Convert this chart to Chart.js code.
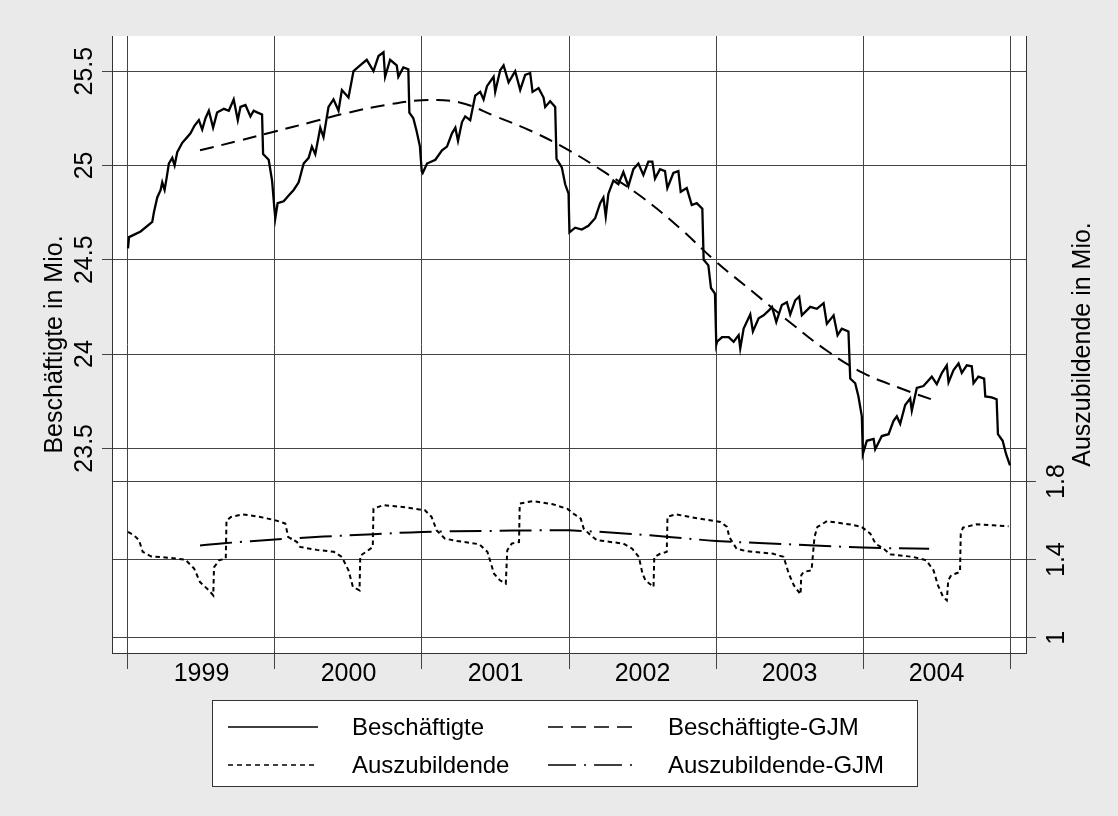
<!DOCTYPE html>
<html>
<head>
<meta charset="utf-8">
<script src="https://cdn.jsdelivr.net/npm/chart.js@4"></script>
<style>
  html, body { margin: 0; padding: 0; background: #eaeaea; }
  canvas { display: block; }
</style>
</head>
<body>
<canvas id="chart" width="1118" height="816"></canvas>
<script>
// Beschäftigte (Mio.), time in decimal years
const besT = [1999.000,1999.007,1999.086,1999.165,1999.176,1999.199,1999.222,1999.233,1999.249,1999.262,1999.278,1999.301,1999.317,1999.335,1999.369,1999.403,1999.425,1999.452,1999.482,1999.505,1999.527,1999.550,1999.579,1999.606,1999.652,1999.686,1999.719,1999.747,1999.765,1999.799,1999.833,1999.855,1999.882,1999.912,1999.919,1999.957,1999.980,1999.995,
  2000.002,2000.018,2000.059,2000.093,2000.127,2000.161,2000.195,2000.229,2000.251,2000.274,2000.308,2000.330,2000.364,2000.398,2000.432,2000.455,2000.500,2000.534,2000.579,2000.624,2000.670,2000.704,2000.738,2000.749,2000.783,2000.828,2000.839,2000.873,2000.907,2000.914,2000.941,2000.964,2000.986,2000.998,
  2001.005,2001.034,2001.091,2001.136,2001.170,2001.204,2001.227,2001.245,2001.272,2001.294,2001.328,2001.362,2001.396,2001.419,2001.442,2001.487,2001.498,2001.532,2001.555,2001.589,2001.634,2001.668,2001.702,2001.736,2001.752,2001.793,2001.827,2001.838,2001.872,2001.906,2001.915,2001.951,2001.974,2001.997,
  2002.003,2002.042,2002.087,2002.132,2002.178,2002.212,2002.234,2002.250,2002.268,2002.302,2002.336,2002.370,2002.404,2002.438,2002.472,2002.506,2002.540,2002.567,2002.585,2002.619,2002.653,2002.669,2002.710,2002.744,2002.760,2002.801,2002.835,2002.869,2002.907,2002.916,2002.948,2002.966,2002.993,
  2003.002,2003.007,2003.041,2003.086,2003.120,2003.154,2003.165,2003.188,2003.233,2003.251,2003.290,2003.324,2003.358,2003.381,2003.410,2003.448,2003.482,2003.505,2003.539,2003.566,2003.584,2003.641,2003.686,2003.732,2003.754,2003.800,2003.827,2003.856,2003.901,2003.913,2003.947,2003.969,2003.992,2003.999,
  2004.026,2004.072,2004.083,2004.128,2004.174,2004.207,2004.230,2004.253,2004.287,2004.321,2004.332,2004.366,2004.411,2004.445,2004.468,2004.502,2004.537,2004.570,2004.582,2004.616,2004.650,2004.672,2004.706,2004.740,2004.752,2004.785,2004.824,2004.832,2004.875,2004.909,2004.918,2004.950,2004.973,2005.000];
const besV = [24.56,24.62,24.65,24.70,24.75,24.83,24.87,24.91,24.87,24.93,25.01,25.04,25.00,25.07,25.12,25.15,25.17,25.21,25.24,25.19,25.25,25.29,25.20,25.28,25.30,25.29,25.35,25.24,25.31,25.32,25.26,25.29,25.28,25.27,25.06,25.03,24.92,24.78,
  24.72,24.80,24.81,24.84,24.87,24.91,25.01,25.04,25.10,25.06,25.20,25.15,25.31,25.35,25.29,25.40,25.36,25.50,25.53,25.56,25.50,25.58,25.60,25.47,25.56,25.53,25.47,25.52,25.51,25.28,25.25,25.18,25.10,24.97,
  24.96,25.01,25.03,25.08,25.10,25.17,25.20,25.13,25.23,25.26,25.24,25.37,25.39,25.35,25.42,25.47,25.39,25.505,25.53,25.44,25.50,25.40,25.48,25.49,25.39,25.41,25.36,25.31,25.34,25.31,25.035,24.99,24.90,24.85,
  24.645,24.67,24.66,24.68,24.72,24.80,24.83,24.73,24.85,24.92,24.90,24.965,24.89,24.98,25.01,24.95,25.02,25.02,24.93,24.98,24.97,24.88,24.96,24.97,24.86,24.88,24.79,24.80,24.77,24.50,24.47,24.35,24.32,
  24.05,24.065,24.09,24.09,24.065,24.10,24.03,24.135,24.21,24.12,24.19,24.205,24.23,24.25,24.17,24.26,24.275,24.21,24.285,24.305,24.205,24.25,24.24,24.27,24.16,24.205,24.10,24.135,24.12,23.87,23.845,23.775,23.67,23.47,
  23.54,23.55,23.495,23.565,23.575,23.645,23.67,23.63,23.73,23.765,23.70,23.82,23.83,23.86,23.88,23.84,23.90,23.94,23.85,23.915,23.95,23.90,23.94,23.935,23.845,23.88,23.87,23.775,23.77,23.76,23.575,23.54,23.47,23.41];

// Beschäftigte, gleitender Jahresmittelwert
const besGjmT = [1999.49,1999.75,2000.0,2000.25,2000.5,2000.75,2001.0,2001.25,2001.5,2001.75,2002.0,2002.25,2002.5,2002.75,2003.0,2003.25,2003.5,2003.75,2004.0,2004.25,2004.5];
const besGjmV = [25.08,25.13,25.18,25.23,25.28,25.32,25.345,25.335,25.26,25.18,25.08,24.96,24.83,24.67,24.49,24.33,24.17,24.02,23.90,23.82,23.75];

// Auszubildende (Mio.)
const azT = [1999.00,1999.04,1999.075,1999.10,1999.155,1999.27,1999.39,1999.45,1999.49,1999.55,1999.58,1999.585,1999.62,1999.665,1999.67,1999.70,1999.78,1999.90,
  2000.01,2000.07,2000.09,2000.15,2000.17,2000.285,2000.40,2000.455,2000.50,2000.53,2000.575,2000.58,2000.62,2000.665,2000.67,2000.735,2000.87,
  2001.02,2001.065,2001.10,2001.155,2001.235,2001.39,2001.445,2001.49,2001.53,2001.57,2001.58,2001.61,2001.66,2001.665,2001.755,2001.89,2001.99,
  2002.03,2002.08,2002.10,2002.147,2002.19,2002.37,2002.43,2002.475,2002.50,2002.52,2002.575,2002.58,2002.62,2002.665,2002.67,2002.725,2002.89,
  2003.03,2003.075,2003.09,2003.14,2003.21,2003.39,2003.46,2003.495,2003.53,2003.575,2003.58,2003.595,2003.65,2003.67,2003.69,2003.755,2003.915,2003.99,
  2004.05,2004.085,2004.14,2004.185,2004.34,2004.43,2004.48,2004.51,2004.545,2004.57,2004.58,2004.60,2004.66,2004.665,2004.68,2004.77,2004.885,2004.99];
const azV = [1.542,1.525,1.50,1.44,1.417,1.41,1.40,1.354,1.285,1.243,1.217,1.36,1.397,1.405,1.60,1.619,1.632,1.619,
  1.60,1.585,1.516,1.49,1.465,1.45,1.44,1.414,1.345,1.26,1.243,1.42,1.44,1.465,1.661,1.679,1.67,
  1.653,1.619,1.55,1.508,1.496,1.479,1.44,1.328,1.294,1.277,1.448,1.482,1.49,1.687,1.70,1.684,1.66,
  1.636,1.61,1.559,1.525,1.50,1.482,1.456,1.414,1.328,1.294,1.26,1.414,1.43,1.44,1.62,1.632,1.61,
  1.593,1.568,1.516,1.456,1.443,1.43,1.414,1.328,1.268,1.222,1.32,1.337,1.345,1.516,1.568,1.597,1.58,1.568,
  1.533,1.482,1.456,1.427,1.414,1.397,1.345,1.268,1.209,1.191,1.294,1.32,1.337,1.533,1.564,1.581,1.576,1.571];

// Auszubildende, gleitender Jahresmittelwert
const azGjmT = [1999.49,1999.67,2000.0,2000.33,2000.67,2001.0,2001.44,2001.8,2002.0,2002.4,2002.7,2003.0,2003.33,2003.67,2004.0,2004.45];
const azGjmV = [1.473,1.485,1.503,1.518,1.53,1.542,1.547,1.55,1.55,1.533,1.515,1.496,1.484,1.473,1.462,1.456];

const yearTicks = [1999, 2000, 2001, 2002, 2003, 2004, 2005];
const yearLabels = ['1999', '2000', '2001', '2002', '2003', '2004'];
const leftTicks = [23.5, 24, 24.5, 25, 25.5];
const rightTicks = [1, 1.4, 1.8];

const FONT = '"Liberation Sans", Arial, Helvetica, sans-serif';
const pts = (ts, vs) => ts.map((t, i) => ({ x: t, y: vs[i] }));

const frame = {
  id: 'frame',
  beforeDraw(chart) {
    const { ctx, chartArea: a } = chart;
    ctx.save();
    ctx.fillStyle = '#eaeaea';
    ctx.fillRect(0, 0, chart.width, chart.height);
    ctx.fillStyle = '#ffffff';
    ctx.fillRect(a.left, a.top, a.right - a.left, a.bottom - a.top);
    ctx.restore();
  },
  afterDraw(chart) {
    const { ctx, chartArea: a, scales } = chart;
    ctx.save();
    ctx.fillStyle = '#000';
    ctx.font = `25px ${FONT}`;

    const vtext = (txt, x, y) => {
      ctx.save();
      ctx.translate(x, y);
      ctx.rotate(-Math.PI / 2);
      ctx.textAlign = 'center';
      ctx.textBaseline = 'alphabetic';
      ctx.fillText(txt, 0, 0);
      ctx.restore();
    };

    leftTicks.forEach(v => vtext(String(v), 92, scales.y.getPixelForValue(v)));
    rightTicks.forEach(v => vtext(String(v), 1064, scales.y2.getPixelForValue(v)));

    const mid = (a.top + a.bottom) / 2;
    vtext('Beschäftigte in Mio.', 62, mid);
    vtext('Auszubildende in Mio.', 1090, mid);

    ctx.textAlign = 'center';
    ctx.textBaseline = 'alphabetic';
    yearLabels.forEach((lab, i) => {
      ctx.fillText(lab, scales.x.getPixelForValue(yearTicks[i] + 0.5), 681);
    });

    // legend
    const box = { x: 212, y: 700, w: 705, h: 86 };
    ctx.fillStyle = '#fff';
    ctx.fillRect(box.x, box.y, box.w, box.h);
    ctx.strokeStyle = '#333';
    ctx.lineWidth = 1;
    ctx.strokeRect(box.x + 0.5, box.y + 0.5, box.w, box.h);
    const items = [
      [0, 228, 318, 352, 727],
      [1, 548, 640, 668, 727],
      [2, 228, 318, 352, 765],
      [3, 548, 640, 668, 765]
    ];
    ctx.font = `24px ${FONT}`;
    ctx.textAlign = 'left';
    ctx.textBaseline = 'middle';
    items.forEach(([di, x0, x1, tx, y]) => {
      const ds = chart.data.datasets[di];
      ctx.strokeStyle = '#000';
      ctx.lineWidth = 1.6;
      ctx.setLineDash(ds.legendDash || []);
      ctx.beginPath();
      ctx.moveTo(x0, y);
      ctx.lineTo(x1, y);
      ctx.stroke();
      ctx.setLineDash([]);
      ctx.fillStyle = '#000';
      ctx.fillText(ds.label, tx, y + 1);
    });
    ctx.restore();
  }
};

const gridCol = '#444';

new Chart(document.getElementById('chart'), {
  type: 'line',
  data: {
    datasets: [
      { label: 'Beschäftigte', data: pts(besT, besV), yAxisID: 'y',
        borderColor: '#000', borderWidth: 2.3, pointRadius: 0, tension: 0, legendDash: [] },
      { label: 'Beschäftigte-GJM', data: pts(besGjmT, besGjmV), yAxisID: 'y',
        borderColor: '#000', borderWidth: 2, borderDash: [14, 8], pointRadius: 0, tension: 0.4, legendDash: [15, 8] },
      { label: 'Auszubildende', data: pts(azT, azV), yAxisID: 'y2',
        borderColor: '#000', borderWidth: 2, borderDash: [4.5, 3.5], pointRadius: 0, tension: 0, legendDash: [5, 4] },
      { label: 'Auszubildende-GJM', data: pts(azGjmT, azGjmV), yAxisID: 'y2',
        borderColor: '#000', borderWidth: 2, borderDash: [32, 8, 2, 8], pointRadius: 0, tension: 0.4, legendDash: [28, 8, 2, 8] }
    ]
  },
  options: {
    responsive: false,
    animation: false,
    devicePixelRatio: 1,
    layout: { padding: { top: 36, left: 0, right: 0, bottom: 0 } },
    plugins: { legend: { display: false }, tooltip: { enabled: false } },
    scales: {
      x: {
        type: 'linear',
        min: 1999 - 16 / 147,
        max: 2005 + 16 / 147,
        afterBuildTicks: s => { s.ticks = yearTicks.map(v => ({ value: v })); },
        afterFit: s => { s.height = 163; },
        ticks: { display: false },
        grid: { color: gridCol, lineWidth: 1, tickLength: 16 },
        border: { display: true, color: '#333', width: 1 }
      },
      y: {
        type: 'linear',
        position: 'left',
        min: 23.5 - 204 / 188,
        max: 25.5 + 35 / 188,
        afterBuildTicks: s => { s.ticks = leftTicks.map(v => ({ value: v })); },
        afterFit: s => { s.width = 112; },
        ticks: { display: false },
        grid: { color: gridCol, lineWidth: 1, tickLength: 10 },
        border: { display: true, color: '#333', width: 1 }
      },
      y2: {
        type: 'linear',
        position: 'right',
        min: 1 - 15.3 / 195,
        max: 1.8 + 445.3 / 195,
        afterBuildTicks: s => { s.ticks = rightTicks.map(v => ({ value: v })); },
        afterFit: s => { s.width = 92; },
        ticks: { display: false },
        grid: { color: gridCol, lineWidth: 1, tickLength: 10 },
        border: { display: true, color: '#333', width: 1 }
      }
    }
  },
  plugins: [frame]
});
</script>
</body>
</html>
